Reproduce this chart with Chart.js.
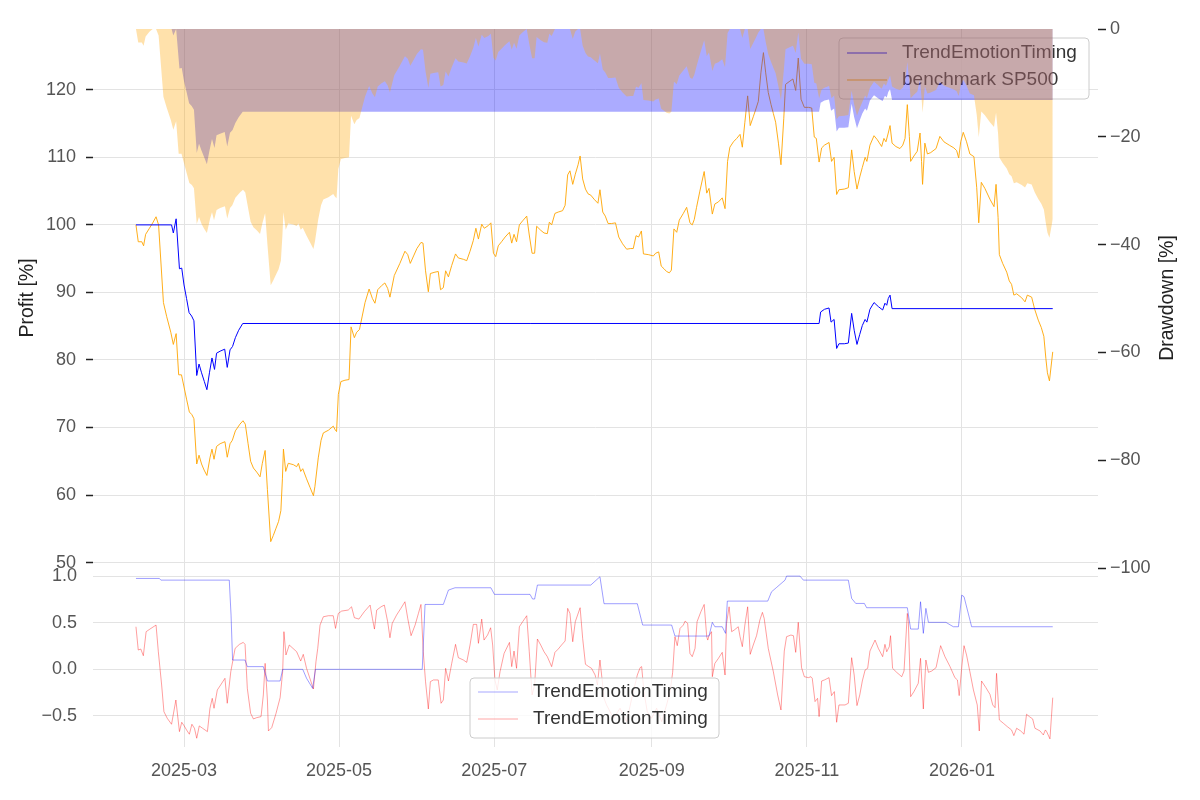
<!DOCTYPE html>
<html>
<head>
<meta charset="utf-8">
<script src="https://cdn.jsdelivr.net/npm/chart.js@4.4.1/dist/chart.umd.min.js"></script>
<style>
  html, body { margin: 0; padding: 0; background: #fff; }
  #wrap { position: relative; width: 1200px; height: 800px; }
  canvas { position: absolute; left: 0; }
  #top { top: 0; }
  #bottom { top: 560px; }
</style>
</head>
<body>
<div id="wrap">
  <canvas id="top" width="1200" height="580"></canvas>
  <canvas id="bottom" width="1200" height="240"></canvas>
</div>
<script>
// x values: calendar days counted from 2025-01-01 (= day 0)
const tickDays = [59, 120, 181, 243, 304, 365];
const tickLabels = ['2025-03', '2025-05', '2025-07', '2025-09', '2025-11', '2026-01'];

// benchmark SP500, profit [%]
const benchDays = [
  40.1, 41.0, 42.4, 43.1, 43.9, 45.4, 46.7, 48.0, 49.0, 50.9,
  52.2, 53.8, 54.8, 55.9, 56.9, 58.0, 59.0, 60.0, 61.1, 62.1,
  62.9, 64.0, 64.9, 65.9, 66.9, 68.0, 69.2, 70.0, 70.8, 71.8,
  73.2, 75.1, 76.0, 77.1, 78.0, 79.2, 81.0, 82.2, 83.1, 84.2,
  85.2, 86.3, 87.6, 88.9, 89.8, 90.9, 91.8, 93.1, 94.1, 95.2,
  96.2, 97.1, 97.7, 98.1, 99.0, 100.0, 102.0, 103.3, 104.0, 104.9,
  105.7, 107.2, 108.6, 109.9,
  110.5, 111.8, 112.9, 113.8, 115.8, 117.7, 118.4, 119.0, 119.7, 120.7,
  122.3, 123.9, 124.7, 126.0, 126.9, 128.0, 129.1, 130.2, 131.8, 133.1,
  134.1, 135.2, 136.7, 138.0, 139.1, 140.0, 141.7, 143.9, 145.9, 147.0,
  148.0, 149.3, 150.6, 152.2, 153.0, 154.0, 155.1, 155.9, 157.7, 159.0,
  159.9, 161.0, 161.9, 163.0, 164.3, 165.8, 166.9, 168.9, 170.2, 171.5,
  172.8, 173.8, 174.8, 176.1, 177.1, 178.7, 179.7, 180.7, 181.6, 182.6, 183.9,
  185.3, 187.0, 187.9, 188.8, 189.8, 190.9, 192.2, 193.8, 194.8, 195.9,
  196.9, 197.7, 199.3, 200.6, 201.9, 202.7, 203.6, 204.9, 206.2, 207.9,
  208.9, 209.9, 210.8, 211.9, 212.9, 214.0, 214.8, 215.8, 216.9, 217.9,
  219.0, 220.3, 221.8, 222.6, 223.7, 224.7, 225.8, 227.2, 228.7, 230.0,
  231.5, 233.1, 234.7, 235.7, 236.8, 237.8, 238.9, 239.7, 241.6, 243.6,
  244.5, 245.7, 246.7, 247.8, 248.8, 249.9, 250.7, 251.7, 252.8, 253.8,
  255.4, 256.7,
  258.0, 258.9, 259.7, 260.6, 261.9, 263.6, 264.6, 265.5, 266.8, 267.8,
  269.2, 270.7, 271.8, 272.8, 273.7, 275.1, 276.4, 277.7, 278.6, 279.6,
  280.7, 281.7, 282.9, 283.8, 284.9, 285.9, 286.9, 287.8, 288.8, 289.9,
  290.8, 291.7, 292.8, 293.8, 294.9, 295.6, 297.0, 298.5, 299.6, 300.6,
  301.7, 303.0, 304.6, 305.9, 306.9, 307.7, 308.8, 309.8, 310.9, 312.7,
  313.7, 314.7, 315.7, 316.6, 318.7, 320.3, 321.6, 322.6, 323.7, 324.8,
  325.8, 326.9, 327.6, 328.8,
  330.4, 331.7, 333.4, 334.3, 335.1, 336.0, 336.7, 337.5, 339.0, 340.6,
  341.7, 342.6, 343.5, 344.3, 344.8, 346.1, 347.4, 348.5, 349.1, 349.5,
  350.4, 351.4, 352.7, 354.8, 356.3, 357.9, 360.0, 361.8, 362.9, 363.7,
  364.5, 365.5, 366.8, 368.1, 369.7, 370.8, 371.6, 372.6, 374.0, 376.0,
  377.6, 378.4, 379.2, 379.7, 381.0, 382.6, 383.6, 384.5, 385.4, 386.5,
  388.5, 389.8, 390.7, 392.4, 393.6, 395.0, 396.2, 397.2, 398.0, 398.6,
  399.4, 400.7
];
const benchVals = [
  100.0, 97.5, 97.5, 96.9, 98.6, 99.5, 100.3, 101.2, 100.0, 88.5,
  86.4, 84.1, 82.3, 83.9, 77.8, 77.8, 76.0, 74.2, 72.3, 71.9,
  71.3, 64.6, 65.9, 64.6, 63.7, 62.9, 65.5, 66.8, 65.3, 67.2,
  67.6, 67.9, 65.6, 67.6, 68.1, 69.5, 70.5, 71.0, 70.5, 67.6,
  65.0, 64.0, 63.4, 62.7, 64.7, 66.6, 60.8, 53.1, 54.0, 55.1,
  56.1, 57.7, 62.4, 66.8, 63.5, 64.7, 64.5, 64.2, 64.7, 63.5,
  63.9, 62.4, 61.1, 59.9,
  61.3, 65.5, 68.1, 69.2, 69.6, 70.2, 69.7, 69.4, 74.9, 76.8,
  77.0, 77.1, 84.9, 83.3, 84.1, 84.5, 86.5, 88.5, 90.5, 89.1,
  88.4, 90.4, 91.0, 91.4, 90.6, 89.3, 92.5, 94.3, 96.1, 95.6,
  94.3, 95.4, 96.5, 97.4, 97.3, 93.2, 90.1, 92.8, 93.0, 93.1,
  90.4, 90.7, 93.2, 92.3, 94.0, 95.7, 95.1, 94.9, 94.7, 96.1,
  97.7, 99.5, 97.9, 100.1, 99.5, 99.9, 100.3, 95.8, 95.3, 96.9, 97.5,
  98.2, 98.9, 97.3, 98.6, 97.5, 100.0, 100.6, 101.3, 98.5, 95.8,
  95.8, 99.8, 99.2, 98.8, 98.7, 100.4, 100.0, 101.7, 101.9, 102.1,
  102.9, 107.4, 108.0, 106.0, 107.5, 108.9, 110.2, 106.8, 105.3, 104.6,
  104.4, 103.8, 103.2, 105.2, 101.9, 101.3, 100.2, 100.2, 100.3, 98.2,
  97.2, 96.4, 96.5, 96.5, 98.4, 98.2, 99.1, 95.7, 95.6, 95.4,
  95.8, 96.0, 93.9, 93.5, 93.1, 92.9, 93.3, 99.4, 98.9, 100.7,
  101.7, 102.6,
  100.3, 100.0, 100.8, 102.6, 105.0, 107.9, 104.7, 105.4, 101.6, 103.1,
  103.4, 104.0, 102.4, 109.4, 111.5, 112.3, 112.8, 113.4, 111.5, 115.2,
  119.1, 114.7, 116.0, 117.0, 118.3, 122.5, 125.5, 122.5, 119.6, 117.8,
  116.5, 115.2, 112.1, 108.9, 115.7, 120.8, 121.2, 121.6, 119.9, 124.7,
  118.6, 117.4, 117.4, 117.3, 113.0, 112.8, 109.3, 111.4, 111.8, 112.2,
  109.4, 110.0, 104.5, 105.2, 105.3, 105.5, 111.1, 107.9, 105.3, 107.1,
  108.5, 110.0, 109.4, 111.8,
  113.2, 112.6, 111.6, 112.8, 112.3, 113.6, 114.7, 112.1, 111.6, 111.3,
  111.8, 112.8, 117.8, 113.1, 109.4, 110.2, 110.9, 113.6, 109.4, 106.0,
  112.1, 110.5, 110.7, 111.3, 113.1, 112.3, 111.8, 111.4, 111.0, 109.9,
  112.3, 113.7, 112.3, 110.5, 110.1, 105.5, 100.3, 106.3, 105.4, 103.8,
  102.7, 106.0, 101.1, 95.6, 94.3, 93.0, 91.7, 91.2, 89.6, 89.8,
  89.2, 88.6, 89.6, 89.3, 87.5, 85.9, 84.8, 83.5, 80.2, 78.1,
  76.9, 81.2
];

// TrendEmotionTiming, profit [%]
const stratDays = [
  40.1, 54.1, 54.8, 55.9, 57.2, 58.1, 59.0, 60.0, 61.0, 62.0,
  62.9, 64.0, 64.9, 65.9, 67.0, 68.0, 69.0, 70.0, 71.0, 71.8,
  73.2, 75.0, 76.0, 77.1, 78.1, 79.2, 80.5, 82.1, 308.8, 309.4,
  310.9, 312.7, 313.5, 314.7, 315.7, 316.6, 318.7, 320.3, 321.6, 322.6,
  323.7, 324.8, 325.8, 326.9, 327.6, 328.8, 330.4, 332.1, 333.8, 334.7,
  335.4, 336.0, 336.7, 337.5, 400.7
];
const stratVals = [
  100.0, 100.0, 98.8, 100.9, 93.5, 93.6, 91.1, 89.1, 87.0, 86.5,
  85.8, 77.7, 79.4, 78.1, 76.8, 75.6, 78.1, 80.3, 78.6, 81.0,
  81.3, 81.6, 78.9, 81.5, 82.0, 83.3, 84.4, 85.4, 85.4, 87.1,
  87.5, 87.7, 85.6, 86.0, 81.7, 82.4, 82.4, 82.5, 86.9, 84.4,
  82.3, 83.8, 85.1, 86.0, 85.6, 87.5, 88.5, 87.9, 87.4, 88.4,
  88.1, 89.1, 89.6, 87.6, 87.6
];

// lower panel, blue series
const sigDays = [
  40.1, 49.3, 49.9, 76.8, 77.5, 78.1, 83.0, 83.9, 90.2, 91.8,
  96.8, 97.8, 105.7, 107.2, 109.6, 110.7, 152.7, 153.8, 161.0, 163.0,
  165.6, 179.7, 181.1, 195.1, 196.1, 196.9, 198.0, 219.0, 222.6, 224.2,
  237.3, 239.4, 250.8, 252.1, 265.5, 266.8, 267.8, 270.7, 272.0, 272.7,
  288.6, 290.1, 292.1, 295.4, 296.0, 301.3, 302.6, 320.3, 321.6, 323.2,
  326.6, 327.5, 343.5, 344.8, 347.8, 348.7, 349.8, 350.8, 351.8, 358.7,
  361.6, 363.6, 364.9, 365.8, 368.8, 400.7
];
const sigVals = [
  0.975, 0.975, 0.957, 0.957, 0.582, 0.100, 0.100, 0.029, 0.029, -0.125,
  -0.125, 0.000, 0.000, -0.096, -0.204, 0.000, 0.000, 0.696, 0.696, 0.850,
  0.875, 0.875, 0.804, 0.804, 0.754, 0.754, 0.904, 0.904, 0.993, 0.704,
  0.704, 0.475, 0.475, 0.357, 0.357, 0.504, 0.457, 0.457, 0.386, 0.732,
  0.732, 0.832, 0.879, 0.957, 1.000, 1.000, 0.957, 0.957, 0.761, 0.707,
  0.707, 0.661, 0.661, 0.432, 0.432, 0.725, 0.386, 0.654, 0.504, 0.504,
  0.457, 0.457, 0.796, 0.779, 0.457, 0.457
];

// lower panel, red series
const redDays = [
  40.1, 41.0, 42.0, 43.0, 44.1, 45.6, 48.0, 48.9, 50.2, 51.1,
  52.4, 54.1, 55.8, 57.2, 58.1, 59.0, 60.0, 61.1, 62.1, 63.1,
  64.0, 65.0, 66.3, 68.2, 69.2, 70.1, 70.8, 72.1, 73.4, 75.1,
  76.0, 77.4, 79.1, 80.8, 82.3, 83.0, 83.9, 85.2, 86.3, 87.6,
  89.3, 90.2, 90.9, 91.8, 92.2, 93.5, 95.2, 96.8, 97.8, 98.3,
  99.1, 100.4, 103.3, 104.9, 105.9, 107.2, 109.9, 110.9,
  111.6, 112.5, 113.8, 115.8, 117.7, 118.6, 119.7, 121.0, 123.6, 124.9,
  126.0, 127.8, 129.9, 132.2, 133.1, 133.9, 134.8, 136.5, 137.8, 139.1,
  140.0, 140.9, 142.6, 144.3, 145.9, 147.0, 148.3, 149.9, 151.2, 152.2,
  153.1, 154.0, 155.1, 155.9, 157.1, 159.0, 160.1, 161.0, 161.9, 163.0,
  164.3, 165.8, 166.9, 168.9, 170.2, 171.5, 172.8, 174.1, 174.8, 176.1,
  177.0, 178.4, 179.6, 180.4, 181.3, 182.2, 183.3,
  184.9, 187.0, 187.9, 188.8, 189.8, 190.9, 192.2, 193.8, 194.8, 195.9,
  196.9, 198.0, 199.3, 200.6, 201.9, 203.6, 204.9, 206.2, 207.5, 208.9,
  209.9, 210.8, 211.9, 212.9, 214.8, 215.8, 216.9, 218.2, 219.3, 220.7,
  221.6, 222.6, 223.4, 224.2, 225.2, 227.9, 230.5, 233.1, 235.1, 237.3,
  238.4, 239.0, 239.9, 241.2, 242.9, 244.9, 246.9, 248.8, 250.2, 251.2,
  252.1, 253.0, 254.1, 255.4,
  256.1, 257.1, 258.0, 258.9, 260.0, 260.8, 262.3, 263.6, 264.6, 265.0,
  265.5, 266.5, 266.8, 267.8, 269.2, 270.7, 271.8, 272.4, 273.4, 274.4,
  275.4, 277.0, 277.7, 278.6, 279.6, 280.7, 281.7, 282.9, 284.2, 285.5,
  286.5, 287.2, 288.8, 290.8, 292.5, 293.8, 295.1, 296.0, 297.7, 298.7,
  299.6, 300.6, 301.9, 303.0, 304.6, 305.6, 306.1, 307.2, 308.2, 308.8,
  309.8, 310.9, 312.7, 313.7, 314.8, 315.7, 316.6, 319.0, 320.3, 321.6,
  322.6, 323.7, 324.8, 325.8, 326.9, 327.9, 328.8,
  330.8, 332.1, 333.8, 334.7, 335.4, 336.4, 336.9, 337.7, 339.3, 341.3,
  342.2, 343.5, 343.9, 344.8, 346.1, 347.8, 348.7, 349.8, 350.8, 351.8,
  353.1, 354.8, 356.6, 358.3, 360.3, 362.2, 363.2, 363.9, 365.0, 365.8,
  366.8, 368.1, 369.5, 371.0, 371.8, 372.7, 374.4, 376.0, 377.1, 378.0,
  378.6, 379.7, 381.3, 382.8, 384.5, 385.4, 386.5, 388.1, 389.4, 390.4,
  391.5, 392.8, 393.7, 395.7, 397.0, 397.8, 398.3, 399.6, 400.7
];
const redVals = [
  0.457, 0.207, 0.218, 0.146, 0.404, 0.432, 0.475, 0.189, -0.168, -0.454,
  -0.525, -0.589, -0.329, -0.668, -0.568, -0.604, -0.650, -0.696, -0.589, -0.632,
  -0.739, -0.607, -0.632, -0.668, -0.418, -0.311, -0.418, -0.221, -0.168, -0.096,
  -0.364, -0.025, 0.225, 0.268, 0.289, 0.268, -0.204, -0.471, -0.532, -0.518,
  -0.507, -0.275, 0.064, -0.329, -0.661, -0.625, -0.471, -0.304, -0.025, 0.404,
  0.154, 0.261, 0.189, 0.089, 0.161, 0.011, -0.211, 0.082,
  0.225, 0.475, 0.564, 0.575, 0.575, 0.439, 0.600, 0.625, 0.636, 0.671,
  0.554, 0.539, 0.618, 0.689, 0.546, 0.432, 0.636, 0.671, 0.689, 0.511,
  0.339, 0.493, 0.582, 0.654, 0.725, 0.546, 0.361, 0.475, 0.600, 0.696,
  0.189, -0.132, -0.425, -0.132, -0.114, -0.114, -0.364, -0.329, 0.011, -0.125,
  0.064, 0.268, 0.125, 0.100, 0.075, 0.261, 0.482, 0.482, 0.279, 0.539,
  0.314, 0.368, 0.446, 0.261, -0.114, -0.221, -0.025,
  0.171, 0.289, 0.029, 0.196, 0.011, 0.457, 0.511, 0.575, 0.189, -0.275,
  -0.168, 0.325, 0.261, 0.189, 0.136, 0.029, 0.182, 0.218, 0.261, 0.304,
  0.654, 0.600, 0.296, 0.511, 0.661, 0.332, 0.054, 0.029, 0.011, -0.061,
  -0.168, 0.100, -0.096, -0.311, -0.382, -0.525, -0.418, -0.561, -0.311, -0.061,
  0.018, 0.029, -0.239, -0.454, -0.525, -0.418, -0.561, -0.382, -0.239, -0.032,
  0.350, 0.254, 0.439, 0.475,
  0.518, 0.493, 0.171, 0.136, 0.225, 0.511, 0.618, 0.696, 0.350, 0.314,
  0.361, 0.404, -0.079, 0.064, 0.118, 0.182, -0.061, 0.493, 0.671, 0.404,
  0.421, 0.457, 0.350, 0.243, 0.475, 0.671, 0.161, 0.261, 0.361, 0.529,
  0.611, 0.546, 0.225, -0.025, -0.275, -0.436, 0.196, 0.350, 0.368, 0.361,
  0.182, 0.504, 0.018, -0.079, -0.089, -0.079, -0.096, -0.346, -0.311, -0.507,
  -0.125, -0.114, -0.089, -0.282, -0.239, -0.568, -0.382, -0.382, -0.364, 0.125,
  -0.061, -0.389, -0.275, -0.125, -0.007, 0.011, 0.196,
  0.314, 0.225, 0.136, 0.268, 0.189, 0.243, 0.361, 0.011, -0.032, -0.079,
  -0.018, 0.600, 0.511, -0.293, -0.239, -0.150, 0.118, -0.425, 0.100, -0.032,
  -0.018, 0.018, 0.254, 0.136, 0.029, -0.089, -0.114, -0.282, 0.046, 0.254,
  0.154, -0.025, -0.221, -0.382, -0.661, -0.125, -0.196, -0.268, -0.382, -0.411,
  -0.043, -0.543, -0.579, -0.614, -0.650, -0.711, -0.632, -0.661, -0.696, -0.482,
  -0.507, -0.532, -0.632, -0.661, -0.704, -0.650, -0.668, -0.746, -0.304
];

const profitTicks = [50, 60, 70, 80, 90, 100, 110, 120];
const ddTicks = [0, -20, -40, -60, -80, -100];
const lowerTicks = [-0.5, 0, 0.5, 1.0];

const FONT = "'Liberation Sans', Arial, sans-serif";
const GRID = '#e3e3e3';
const TICK_COL = '#555';
Chart.defaults.font.family = FONT;

function pts(days, vals) {
  return days.map((d, i) => ({ x: d, y: vals[i] }));
}

// running drawdown from the profit curve, in %
function drawdown(vals) {
  let peak = -Infinity;
  return vals.map(v => {
    peak = Math.max(peak, v);
    return (v / peak - 1) * 100;
  });
}

function minus(v) {
  return v < 0 ? '\u2212' + Math.abs(v) : String(v);
}

function setTicks(values) {
  return scale => { scale.ticks = values.map(v => ({ value: v })); };
}

// fixed axis size, and no extra room reserved for the end labels
function fitWidth(w) {
  return s => { s.width = w; s.paddingTop = 0; s.paddingBottom = 0; };
}

function legendBox(ctx, x, y, w, h, items) {
  ctx.save();
  ctx.beginPath();
  ctx.roundRect(x, y, w, h, 4);
  ctx.fillStyle = 'rgba(255,255,255,0.8)';
  ctx.fill();
  ctx.strokeStyle = '#cccccc';
  ctx.lineWidth = 1;
  ctx.stroke();
  ctx.font = '19px ' + FONT;
  ctx.textBaseline = 'middle';
  items.forEach(it => {
    ctx.beginPath();
    ctx.strokeStyle = it.color;
    ctx.lineWidth = 1;
    ctx.moveTo(x + 8, it.y);
    ctx.lineTo(x + 48, it.y);
    ctx.stroke();
    ctx.fillStyle = '#333';
    ctx.fillText(it.label, x + 63, it.y);
  });
  ctx.restore();
}

const xAxis = (showLabels) => ({
  type: 'linear',
  min: 23.2,
  max: 418.5,
  afterBuildTicks: setTicks(tickDays),
  grid: { color: GRID, drawTicks: false },
  border: { display: false },
  ticks: {
    display: showLabels,
    autoSkip: false,
    maxRotation: 0,
    padding: 13,
    color: TICK_COL,
    font: { size: 18 },
    callback: v => tickLabels[tickDays.indexOf(v)]
  },
  afterFit: s => {
    s.height = showLabels ? 53 : 12;
    s.paddingLeft = 0;
    s.paddingRight = 0;
  }
});

// upper panel: profit lines + drawdown areas
const topDecor = {
  id: 'topDecor',
  beforeDatasetsDraw(chart) {
    legendBox(chart.ctx, 839, 38, 250, 61, [
      { y: 53, color: 'blue', label: 'TrendEmotionTiming' },
      { y: 80, color: 'orange', label: 'benchmark SP500' }
    ]);
  },
  afterDraw(chart) {
    const ctx = chart.ctx;
    ctx.save();
    ctx.fillStyle = '#222';
    ctx.font = '19.5px ' + FONT;
    ctx.textAlign = 'center';
    ctx.textBaseline = 'middle';
    [[28, 'Profit [%]'], [1168, 'Drawdown [%]']].forEach(([x, t]) => {
      ctx.save();
      ctx.translate(x, 298);
      ctx.rotate(-Math.PI / 2);
      ctx.fillText(t, 0, 0);
      ctx.restore();
    });
    ctx.restore();
  }
};

new Chart(document.getElementById('top'), {
  type: 'line',
  data: {
    datasets: [
      {
        label: 'benchmark SP500 drawdown',
        data: pts(benchDays, drawdown(benchVals)),
        yAxisID: 'dd',
        fill: 'origin',
        backgroundColor: 'rgba(255,165,0,0.33)',
        borderColor: 'rgba(0,0,0,0)',
        borderWidth: 0,
        pointRadius: 0,
        order: 0
      },
      {
        label: 'TrendEmotionTiming drawdown',
        data: pts(stratDays, drawdown(stratVals)),
        yAxisID: 'dd',
        fill: 'origin',
        backgroundColor: 'rgba(0,0,255,0.33)',
        borderColor: 'rgba(0,0,0,0)',
        borderWidth: 0,
        pointRadius: 0,
        order: 1
      },
      {
        label: 'TrendEmotionTiming',
        data: pts(stratDays, stratVals),
        yAxisID: 'y',
        borderColor: 'blue',
        borderWidth: 1,
        pointRadius: 0,
        fill: false,
        order: 2
      },
      {
        label: 'benchmark SP500',
        data: pts(benchDays, benchVals),
        yAxisID: 'y',
        borderColor: 'orange',
        borderWidth: 0.9,
        pointRadius: 0,
        fill: false,
        order: 3
      }
    ]
  },
  options: {
    responsive: false,
    animation: false,
    events: [],
    layout: { padding: { top: 29, left: 0, right: 0, bottom: 0 } },
    plugins: { legend: { display: false }, tooltip: { enabled: false } },
    scales: {
      x: xAxis(false),
      y: {
        position: 'left',
        min: 49.2,
        max: 129,
        afterBuildTicks: setTicks(profitTicks),
        grid: { color: GRID, tickColor: '#222', tickLength: 7, tickWidth: 1.5 },
        border: { display: false },
        ticks: { color: TICK_COL, font: { size: 18 }, padding: 10 },
        afterFit: fitWidth(93)
      },
      dd: {
        position: 'right',
        min: -100,
        max: 0,
        afterBuildTicks: setTicks(ddTicks),
        grid: { drawOnChartArea: false, tickColor: '#222', tickLength: 8, tickWidth: 1.5 },
        border: { display: false },
        ticks: { color: TICK_COL, font: { size: 18 }, padding: 4, callback: v => minus(v) },
        afterFit: fitWidth(102)
      }
    }
  },
  plugins: [topDecor]
});

// lower panel
const bottomDecor = {
  id: 'bottomDecor',
  afterDatasetsDraw(chart) {
    legendBox(chart.ctx, 470, 118, 249, 60, [
      { y: 132, color: 'rgba(0,0,255,0.35)', label: 'TrendEmotionTiming' },
      { y: 159, color: 'rgba(255,0,0,0.35)', label: 'TrendEmotionTiming' }
    ]);
  }
};

new Chart(document.getElementById('bottom'), {
  type: 'line',
  data: {
    datasets: [
      {
        label: 'TrendEmotionTiming',
        data: pts(sigDays, sigVals),
        borderColor: 'rgba(0,0,255,0.38)',
        borderWidth: 1,
        pointRadius: 0,
        fill: false
      },
      {
        label: 'TrendEmotionTiming',
        data: pts(redDays, redVals),
        borderColor: 'rgba(255,0,0,0.38)',
        borderWidth: 1,
        pointRadius: 0,
        fill: false
      }
    ]
  },
  options: {
    responsive: false,
    animation: false,
    events: [],
    layout: { padding: { top: 8, left: 0, right: 102, bottom: 0 } },
    plugins: { legend: { display: false }, tooltip: { enabled: false } },
    scales: {
      x: xAxis(true),
      y: {
        position: 'left',
        min: -0.833,
        max: 1.087,
        afterBuildTicks: setTicks(lowerTicks),
        grid: { color: GRID, drawTicks: false },
        border: { display: false },
        ticks: { color: TICK_COL, font: { size: 18 }, padding: 16, callback: v => minus(v.toFixed(1)) },
        afterFit: fitWidth(93)
      }
    }
  },
  plugins: [bottomDecor]
});
</script>
</body>
</html>
